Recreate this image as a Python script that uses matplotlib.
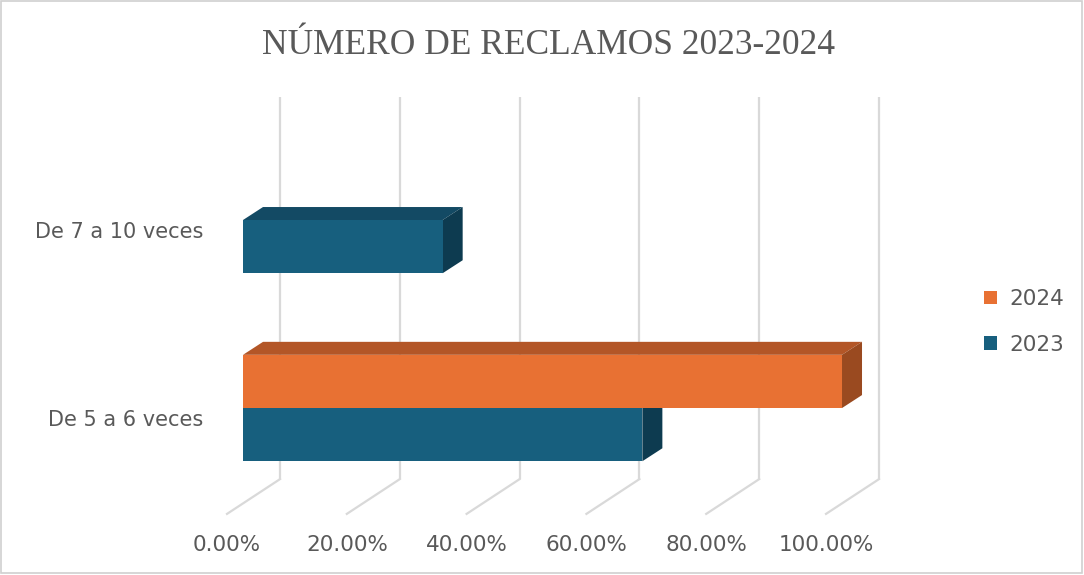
import numpy as np
import matplotlib
matplotlib.use("Agg")
from matplotlib import pyplot as plt
from matplotlib.patches import Polygon, Rectangle, Patch

# data
categories = ["De 5 a 6 veces", "De 7 a 10 veces"]
series_names = ["2024", "2023"]
values_2024 = [100.0, np.nan]
values_2023 = [66.67, 33.33]
ticks = [0, 20, 40, 60, 80, 100]
tick_labels = ["0.00%", "20.00%", "40.00%", "60.00%", "80.00%", "100.00%"]
title = "NÚMERO DE RECLAMOS 2023-2024"

# colours (front, top, side)
blue = ("#175f7e", "#134a64", "#0d3b50")
orange = ("#e87133", "#b35627", "#9a4a20")
grid_color = "#d9d9d9"
text_color = "#595959"

fig = plt.figure(figsize=(10.84, 5.75), dpi=100)
ax = fig.add_axes([0, 0, 1, 1])
ax.axis("off")
# 1% ~ 5.99 px, one category ~ 188 px
ax.set_xlim(-40.57, 140.4)
ax.set_ylim(-0.888, 2.17)

bar_h = 0.283
dx, dy = 3.34, 0.069          # bar depth
back_dx = 6.18                # back wall offset
front_dx = -2.67              # floor front edge
y_top, y_back, y_front = 1.654, -0.378, -0.563

# gridlines (back wall + floor)
for t, lab in zip(ticks, tick_labels):
    ax.plot([t + back_dx, t + back_dx], [y_back, y_top], color=grid_color, lw=1.6, zorder=1,
            solid_capstyle="butt")
    ax.plot([t + back_dx, t + front_dx], [y_back, y_front], color=grid_color, lw=1.6, zorder=1)
    ax.text(t + front_dx, -0.728, lab, ha="center", va="center",
            fontsize=15.5, color=text_color, family="DejaVu Sans")


def bar3d(v, y0, cols, z):
    if np.isnan(v):
        return
    y1 = y0 + bar_h
    ax.add_patch(Polygon([(0, y1), (v, y1), (v + dx, y1 + dy), (dx, y1 + dy)],
                         closed=True, facecolor=cols[1], edgecolor="none", zorder=z))
    ax.add_patch(Polygon([(v, y0), (v, y1), (v + dx, y1 + dy), (v + dx, y0 + dy)],
                         closed=True, facecolor=cols[2], edgecolor="none", zorder=z))
    ax.add_patch(Rectangle((0, y0), v, bar_h, facecolor=cols[0], edgecolor="none", zorder=z))


for i, cat in enumerate(categories):
    bar3d(values_2023[i], i - bar_h, blue, 2 + i * 2)
    bar3d(values_2024[i], i, orange, 3 + i * 2)
    ax.text(-6.68, i - 0.066, cat, ha="right", va="center", fontsize=15,
            color=text_color, family="DejaVu Sans")

fig.text(0.506, 1 - 46 / 575, title, ha="center", va="center", fontsize=25.5,
         color=text_color, family="Liberation Serif")

handles = [Patch(facecolor=orange[0]), Patch(facecolor=blue[0])]
fig.legend(handles, series_names, loc="center left", bbox_to_anchor=(0.89, 1 - 322 / 575),
           frameon=False, fontsize=15.5, handlelength=0.6, handleheight=0.6,
           handletextpad=0.55, labelspacing=1.2, labelcolor=text_color)

fig.patches.append(Rectangle((0.001, 0.003), 0.997, 0.995, transform=fig.transFigure,
                             fill=False, edgecolor="#d0d0d0", lw=1.2))

fig.savefig("out.png", dpi=100)
